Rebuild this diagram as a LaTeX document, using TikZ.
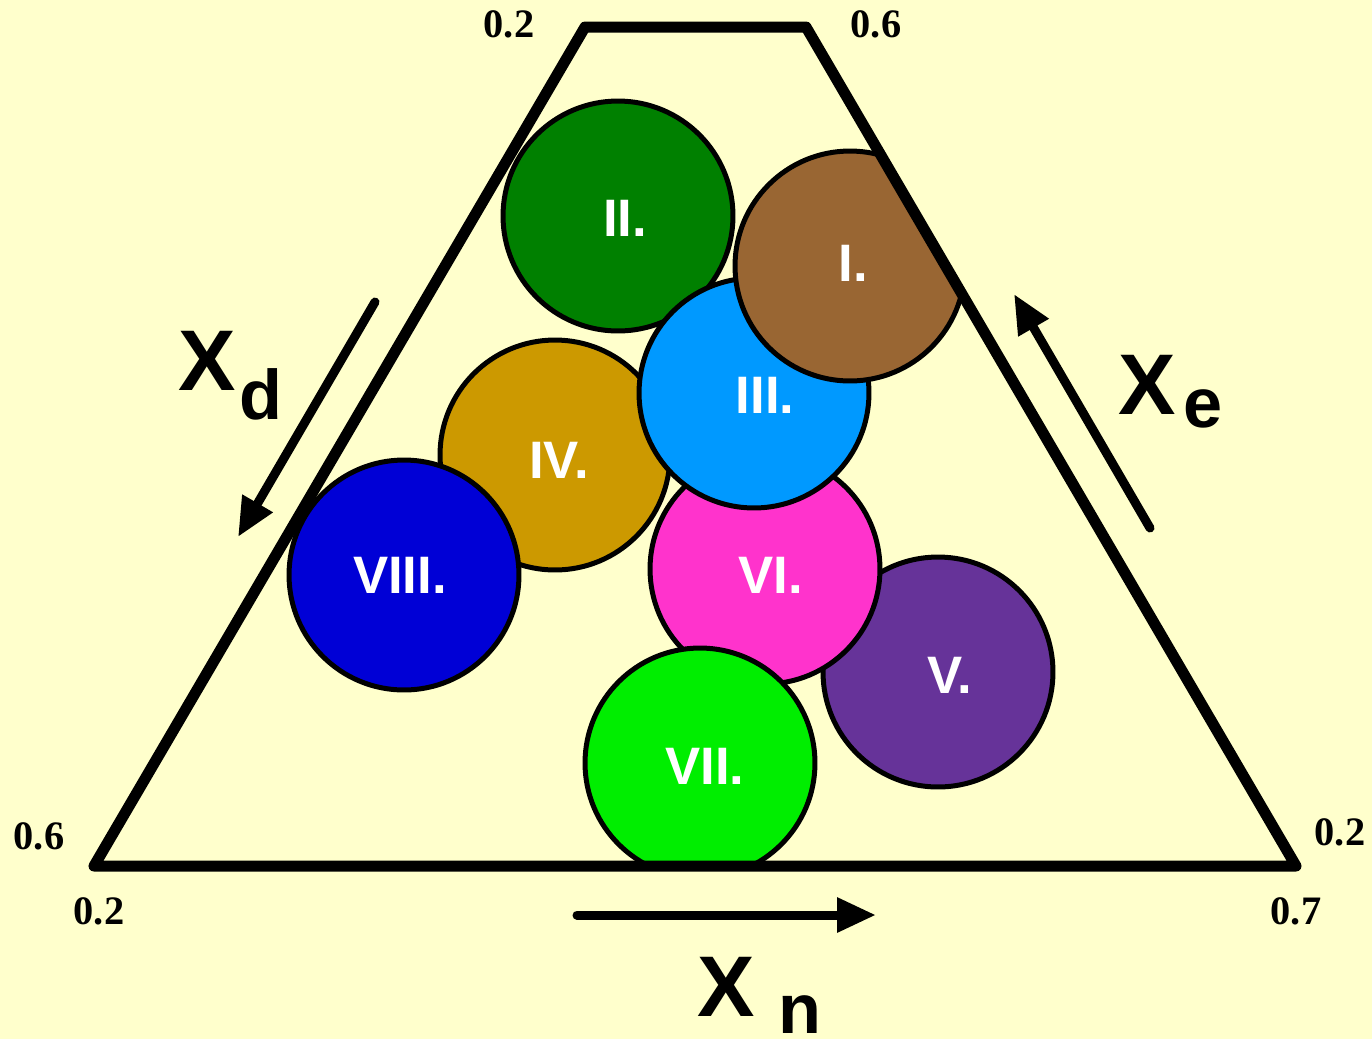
\documentclass[tikz,border=0pt]{standalone}
\usepackage{fontspec}
\setmainfont{Liberation Serif}
\newfontfamily\lsans{Liberation Sans}
\usetikzlibrary{arrows.meta}
\definecolor{bgyellow}{HTML}{FFFFCC}
\definecolor{cI}{HTML}{996633}
\definecolor{cII}{HTML}{008000}
\definecolor{cIII}{HTML}{0099FF}
\definecolor{cIV}{HTML}{CC9900}
\definecolor{cV}{HTML}{663399}
\definecolor{cVI}{HTML}{FF33CC}
\definecolor{cVII}{HTML}{00EE00}
\definecolor{cVIII}{HTML}{0000D6}
\tikzset{
  blob/.style={circle, draw=black, line width=0.1cm, minimum size=4.6cm, inner sep=0pt, fill=#1},
  blobtext/.style={inner sep=0pt, text=white, font=\lsans\fontsize{30}{30}\selectfont\bfseries},
  numlab/.style={inner sep=0pt, font=\fontsize{23}{23}\selectfont\bfseries},
  biglab/.style={inner sep=0pt, font=\lsans\fontsize{49}{49}\selectfont\bfseries},
  sublab/.style={inner sep=0pt, font=\lsans\fontsize{40}{40}\selectfont\bfseries},
  axisarrow/.style={line width=0.18cm, line cap=round, -{Triangle[length=0.78cm,width=0.66cm]}},
  frame/.style={line width=0.22cm, line join=round, line cap=round}
}
\begin{document}
\begin{tikzpicture}[x=0.02cm, y=-0.02cm]
\fill[bgyellow] (0,0) rectangle (1372,1039);
\useasboundingbox (0,0) rectangle (1372,1039);
\coordinate (tl) at (585,27);
\coordinate (tr) at (806,27);
\coordinate (br) at (1296,866);
\coordinate (bl) at (94,866);
\begin{scope}
\clip (tl) -- (tr) -- (br) -- (bl) -- cycle;
\node[blob=cII] (cii) at (618,216) {};
\node[blob=cIV] (civ) at (555,455) {};
\node[blob=cV] (cv) at (938,672) {};
\node[blob=cVI] (cvi) at (765,569) {};
\node[blob=cIII] (ciii) at (754,393) {};
\node[blob=cI] (ci) at (850,266) {};
\node[blob=cVIII] (cviii) at (404,575) {};
\node[blob=cVII] (cvii) at (700,763) {};
\end{scope}
\draw[frame] (tl) -- (tr) -- (br) -- (bl) -- cycle;
\node[blobtext] (tI) at (853,263) {I.};
\node[blobtext] (tII) at (625,218) {II.};
\node[blobtext] (tIII) at (765,395) {III.};
\node[blobtext] (tIV) at (559,460) {IV.};
\node[blobtext] (tV) at (950,675) {V.};
\node[blobtext] (tVI) at (771,575) {VI.};
\node[blobtext] (tVII) at (705,766) {VII.};
\node[blobtext] (tVIII) at (400,575) {VIII.};
\node[numlab] (n1) at (509,24) {0.2};
\node[numlab] (n2) at (876,24) {0.6};
\node[numlab] (n3) at (39,836) {0.6};
\node[numlab] (n4) at (99,911) {0.2};
\node[numlab] (n5) at (1340,832) {0.2};
\node[numlab] (n6) at (1296,911) {0.7};
\coordinate (dA) at (375,302);
\coordinate (dB) at (238,537);
\coordinate (eA) at (1150,528);
\coordinate (eB) at (1014,294);
\coordinate (nA) at (577,915);
\coordinate (nB) at (876,915);
\draw[axisarrow] (dA) -- (dB);
\draw[axisarrow] (eA) -- (eB);
\draw[axisarrow] (nA) -- (nB);
\node[biglab] (xd) at (207,361) {X};
\node[sublab] (xdsub) at (261,394) {d};
\node[biglab] (xe) at (1147,385) {X};
\node[sublab] (xesub) at (1203,409) {e};
\node[biglab] (xn) at (726,987) {X};
\node[sublab] (xnsub) at (800,1015) {n};
\end{tikzpicture}
\end{document}
